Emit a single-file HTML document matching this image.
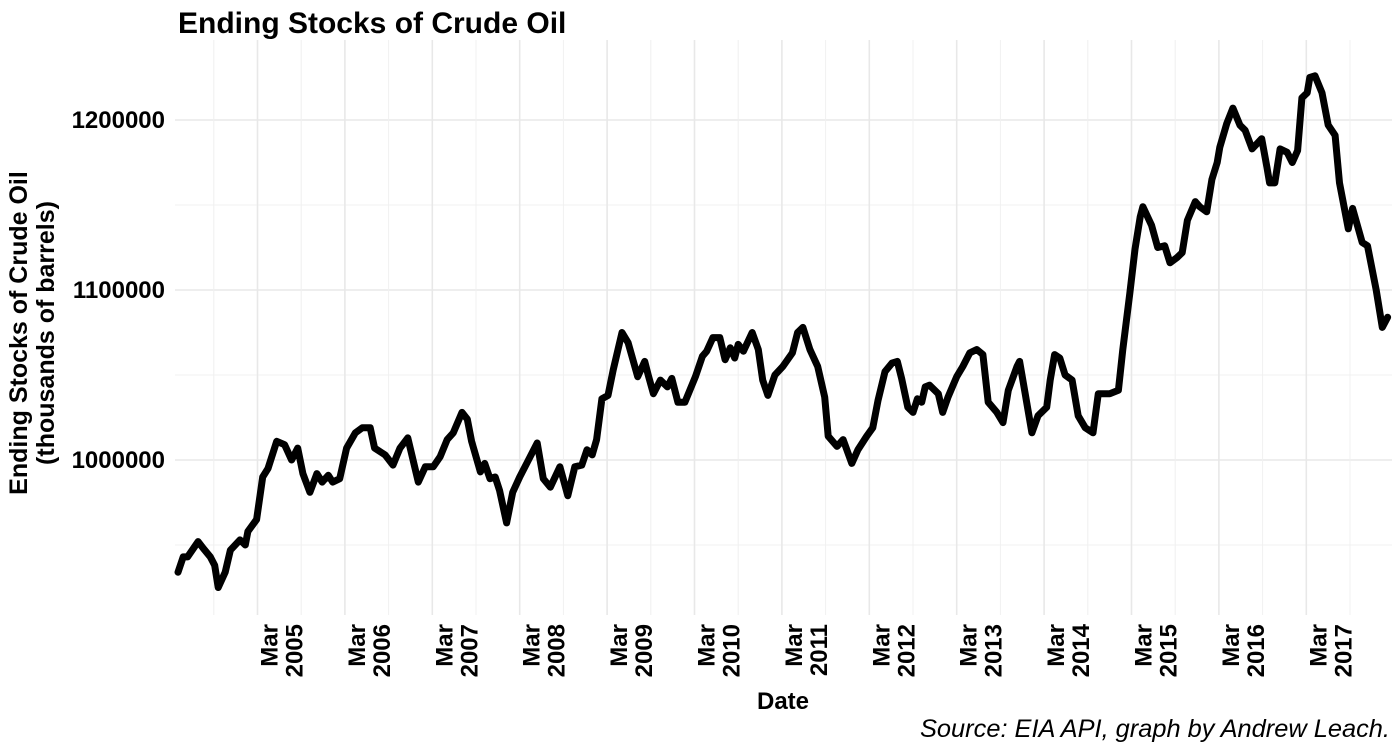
<!DOCTYPE html>
<html><head><meta charset="utf-8"><style>
body{margin:0;background:#fff;}
svg{display:block;font-family:"Liberation Sans",Arial,sans-serif;}
</style></head><body>
<svg id="chart" width="1400" height="750" viewBox="0 0 1400 750">
<g id="grid"></g>
<g id="xlabels"></g>
<g id="ylabels"></g>
<path id="line" fill="none" stroke="#000" stroke-width="7" stroke-linejoin="round" stroke-linecap="round"/>
<text x="178" y="33" font-size="30" font-weight="bold">Ending Stocks of Crude Oil</text>
<text transform="translate(37,333) rotate(-90)" text-anchor="middle" font-size="25" font-weight="bold"><tspan x="0" y="-10">Ending Stocks of Crude Oil</tspan><tspan x="0" y="17">(thousands of barrels)</tspan></text>
<text x="783" y="709" text-anchor="middle" font-size="24" font-weight="bold">Date</text>
<text x="1390" y="737" text-anchor="end" font-size="25.4" font-style="italic">Source: EIA API, graph by Andrew Leach.</text>
</svg>
<script>
const dates=[2004.09,2004.15,2004.20,2004.32,2004.38,2004.46,2004.51,2004.55,2004.63,2004.69,2004.80,2004.86,2004.89,2004.99,2005.06,2005.12,2005.22,2005.31,2005.39,2005.46,2005.52,2005.60,2005.68,2005.74,2005.81,2005.86,2005.94,2006.02,2006.12,2006.20,2006.29,2006.34,2006.46,2006.55,2006.63,2006.72,2006.84,2006.92,2007.01,2007.09,2007.17,2007.24,2007.34,2007.40,2007.45,2007.55,2007.60,2007.66,2007.72,2007.77,2007.85,2007.92,2008.00,2008.09,2008.20,2008.27,2008.35,2008.46,2008.55,2008.63,2008.71,2008.77,2008.83,2008.88,2008.94,2009.01,2009.07,2009.17,2009.24,2009.35,2009.43,2009.47,2009.53,2009.61,2009.69,2009.74,2009.81,2009.89,2010.01,2010.09,2010.14,2010.21,2010.29,2010.35,2010.41,2010.46,2010.50,2010.56,2010.66,2010.73,2010.78,2010.84,2010.92,2011.01,2011.12,2011.18,2011.24,2011.32,2011.41,2011.49,2011.53,2011.63,2011.70,2011.80,2011.87,2011.97,2012.04,2012.10,2012.18,2012.26,2012.32,2012.37,2012.44,2012.50,2012.55,2012.60,2012.64,2012.69,2012.79,2012.84,2012.90,2013.00,2013.07,2013.15,2013.23,2013.30,2013.36,2013.46,2013.53,2013.59,2013.69,2013.72,2013.78,2013.86,2013.93,2014.03,2014.07,2014.12,2014.18,2014.24,2014.32,2014.39,2014.47,2014.56,2014.62,2014.75,2014.85,2014.90,2014.98,2015.04,2015.10,2015.13,2015.23,2015.30,2015.38,2015.44,2015.52,2015.58,2015.64,2015.73,2015.78,2015.86,2015.92,2015.98,2016.01,2016.09,2016.16,2016.24,2016.30,2016.38,2016.49,2016.55,2016.58,2016.64,2016.70,2016.78,2016.84,2016.90,2016.95,2017.01,2017.04,2017.10,2017.18,2017.25,2017.33,2017.38,2017.48,2017.53,2017.64,2017.70,2017.80,2017.87,2017.93];
const stocks=[934,943,943,952,948,943,938,925,934,947,953,950,958,965,990,995,1011,1009,1000,1007,992,981,992,987,991,987,989,1007,1016,1019,1019,1007,1003,997,1007,1013,987,996,996,1002,1012,1016,1028,1024,1011,993,998,989,990,982,963,981,990,999,1010,989,984,996,979,996,997,1006,1003,1012,1036,1038,1053,1075,1069,1049,1058,1050,1039,1047,1043,1048,1034,1034,1049,1061,1064,1072,1072,1059,1066,1060,1068,1064,1075,1065,1047,1038,1050,1055,1063,1075,1078,1065,1055,1037,1014,1008,1012,998,1006,1014,1019,1035,1052,1057,1058,1048,1031,1028,1036,1034,1043,1044,1039,1028,1037,1049,1055,1063,1065,1062,1034,1028,1022,1041,1055,1058,1040,1016,1026,1031,1047,1062,1060,1050,1047,1026,1019,1016,1039,1039,1041,1065,1098,1124,1143,1149,1138,1125,1126,1116,1119,1122,1141,1152,1149,1146,1165,1175,1184,1198,1207,1197,1194,1183,1189,1172,1163,1163,1183,1181,1175,1182,1213,1216,1225,1226,1216,1197,1191,1163,1136,1148,1128,1126,1100,1078,1084];
const yTicks=[1000000,1100000,1200000];
const yMinor=[950000,1050000,1150000,1250000];
const xYears=[2005,2006,2007,2008,2009,2010,2011,2012,2013,2014,2015,2016,2017];
const xMonthLabel="Mar";

const X=t=>257.5+(t-2005)*87.4;
const Y=v=>460-(v-1000000)/100000*170;
const NS="http://www.w3.org/2000/svg";
const PX0=175,PX1=1392,PY0=40,PY1=615;
const grid=document.getElementById('grid');
function ln(x1,y1,x2,y2,w,c,name){const l=document.createElementNS(NS,'line');l.setAttribute('x1',x1);l.setAttribute('y1',y1);l.setAttribute('x2',x2);l.setAttribute('y2',y2);l.setAttribute('stroke',c);l.setAttribute('stroke-width',w);


grid.appendChild(l);}
yMinor.forEach(v=>{const y=Y(v);if(y>=PY0)ln(PX0,y,PX1,y,1,'#f2f2f2','y-minor-gridline');});
yTicks.forEach(v=>ln(PX0,Y(v),PX1,Y(v),1.6,'#e8e8e8','y-major-gridline'));
for(let t=2004.5;t<=2018;t+=1){const x=X(t);if(x>PX0&&x<PX1)ln(x,PY0,x,PY1,1,'#f0f0f0','x-minor-gridline');}
xYears.forEach(yr=>ln(X(yr),PY0,X(yr),PY1,1.6,'#e8e8e8','x-major-gridline'));
const yl=document.getElementById('ylabels');
yTicks.forEach(v=>{const t=document.createElementNS(NS,'text');t.setAttribute('x',165);t.setAttribute('y',Y(v)+8);t.setAttribute('text-anchor','end');t.setAttribute('font-size','24');t.setAttribute('font-weight','bold');t.textContent=String(v);


yl.appendChild(t);});
const xl=document.getElementById('xlabels');
xYears.forEach(yr=>{const gx=X(yr);const t=document.createElementNS(NS,'text');t.setAttribute('transform','translate('+(gx+20)+',624) rotate(-90)');t.setAttribute('text-anchor','end');t.setAttribute('font-size','24');t.setAttribute('font-weight','bold');
const a=document.createElementNS(NS,'tspan');a.setAttribute('x',0);a.setAttribute('y',0);a.textContent=xMonthLabel;
const b=document.createElementNS(NS,'tspan');b.setAttribute('x',0);b.setAttribute('y',25);b.textContent=String(yr);
t.appendChild(a);t.appendChild(b);


xl.appendChild(t);});
let d='';dates.forEach((t,i)=>{d+=(i?'L':'M')+X(t).toFixed(1)+','+Y(stocks[i]*1000).toFixed(1);});
document.getElementById('line').setAttribute('d',d);
</script>
</body></html>
